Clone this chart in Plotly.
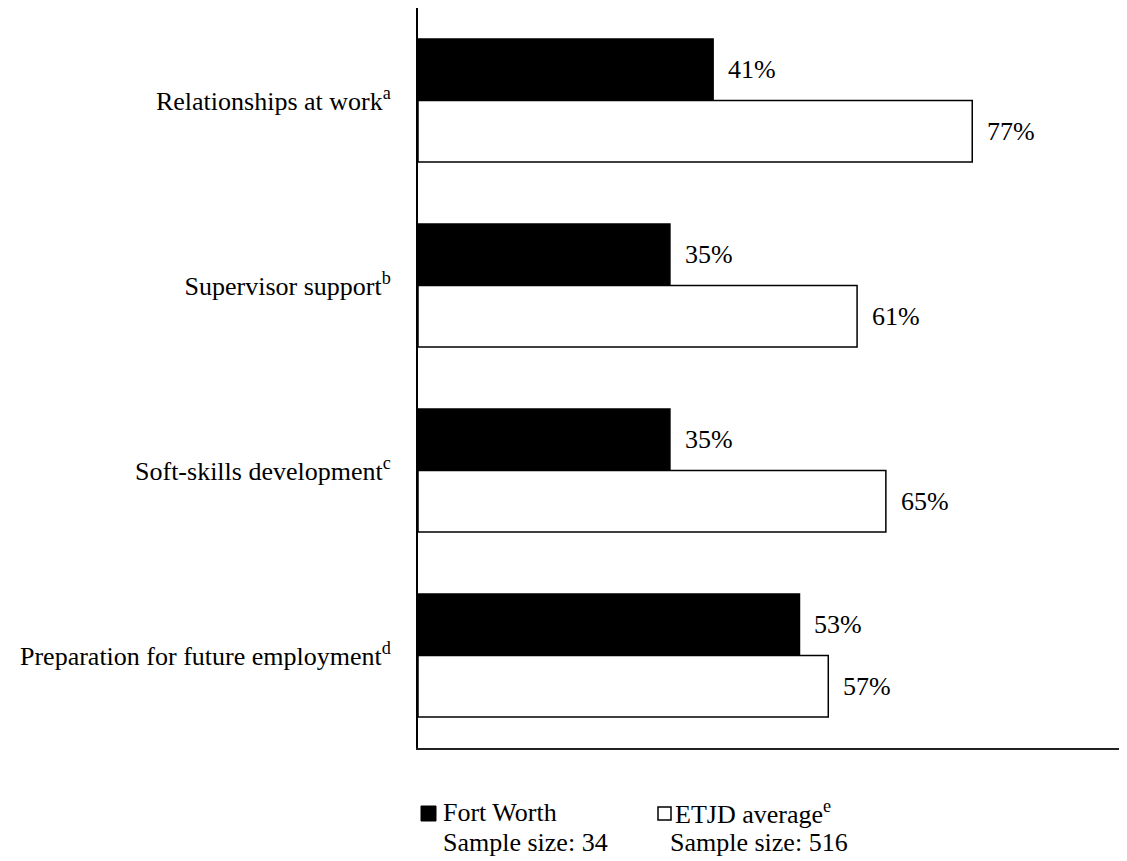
import plotly.graph_objects as go

categories = [
    "Relationships at work<sup>a</sup>",
    "Supervisor support<sup>b</sup>",
    "Soft-skills development<sup>c</sup>",
    "Preparation for future employment<sup>d</sup>",
]
fort_worth = [41, 35, 35, 53]
etjd_avg = [77, 61, 65, 57]
series_names = ["Fort Worth", "ETJD average"]
sample_sizes = [34, 516]

FONT = "Liberation Serif, Times New Roman, serif"
FS = 26

fig = go.Figure()
fig.add_trace(go.Bar(
    y=categories, x=fort_worth, orientation="h", name=series_names[0],
    marker=dict(color="black", line=dict(color="black", width=1.5)),
))
fig.add_trace(go.Bar(
    y=categories, x=etjd_avg, orientation="h", name=series_names[1],
    marker=dict(color="white", line=dict(color="black", width=1.5)),
))

annotations = []
for cat, v in zip(categories, fort_worth):
    annotations.append(dict(x=v, y=cat, xref="x", yref="y", text=f"{v}%",
                            showarrow=False, xanchor="left", yanchor="middle",
                            xshift=13, yshift=31,
                            font=dict(family=FONT, size=FS, color="black")))
for cat, v in zip(categories, etjd_avg):
    annotations.append(dict(x=v, y=cat, xref="x", yref="y", text=f"{v}%",
                            showarrow=False, xanchor="left", yanchor="middle",
                            xshift=13, yshift=-31,
                            font=dict(family=FONT, size=FS, color="black")))

# legend texts (pixel offsets from plot-area origin)
leg_font = dict(family=FONT, size=FS, color="black")
annotations += [
    dict(x=0, y=0, xref="paper", yref="paper", xshift=23, yshift=-64,
         text=series_names[0], showarrow=False, xanchor="left", yanchor="middle", font=leg_font),
    dict(x=0, y=0, xref="paper", yref="paper", xshift=23, yshift=-94,
         text=f"Sample size: {sample_sizes[0]}", showarrow=False, xanchor="left", yanchor="middle", font=leg_font),
    dict(x=0, y=0, xref="paper", yref="paper", xshift=255, yshift=-64,
         text=series_names[1] + "<sup>e</sup>", showarrow=False, xanchor="left", yanchor="middle", font=leg_font),
    dict(x=0, y=0, xref="paper", yref="paper", xshift=250, yshift=-94,
         text=f"Sample size: {sample_sizes[1]}", showarrow=False, xanchor="left", yanchor="middle", font=leg_font),
]

shapes = [
    dict(type="rect", xref="paper", yref="paper", xsizemode="pixel", ysizemode="pixel",
         xanchor=0, yanchor=0, x0=3, x1=18, y0=-58, y1=-73,
         fillcolor="black", line=dict(color="black", width=1)),
    dict(type="rect", xref="paper", yref="paper", xsizemode="pixel", ysizemode="pixel",
         xanchor=0, yanchor=0, x0=240, x1=253, y0=-59, y1=-72,
         fillcolor="white", line=dict(color="black", width=1.5)),
]

fig.update_layout(
    width=1119, height=853,
    margin=dict(l=410, r=0, t=0, b=113),
    paper_bgcolor="white", plot_bgcolor="white",
    barmode="group", bargap=0.336, bargroupgap=0,
    showlegend=False,
    font=dict(family=FONT, size=FS, color="black"),
    annotations=annotations,
    shapes=shapes,
)
fig.update_xaxes(range=[0, 98.5], showgrid=False, zeroline=False, showticklabels=False,
                 ticks="", showline=True, linecolor="#222", linewidth=2, fixedrange=True)
fig.update_yaxes(autorange="reversed", showgrid=False, zeroline=False, ticks="",
                 showline=True, linecolor="black", linewidth=2, ticklabelstandoff=20,
                 tickfont=dict(family=FONT, size=FS, color="black"))

fig.write_html("out.html")
